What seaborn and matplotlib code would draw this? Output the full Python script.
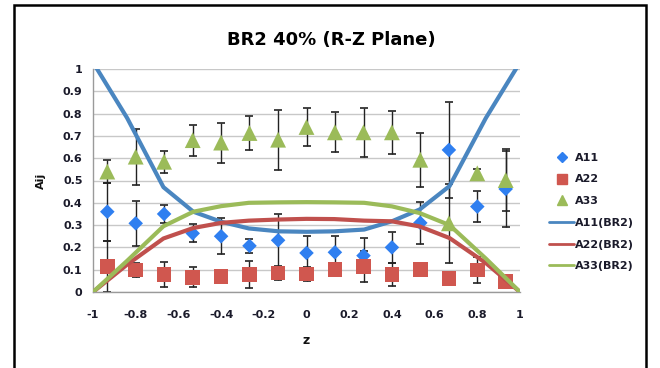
import numpy as np
import pandas as pd
import seaborn as sns
import matplotlib.pyplot as plt
from matplotlib.lines import Line2D
from matplotlib.patches import Rectangle

# measured points (symmetric error bars)
z = [-0.933, -0.8, -0.667, -0.533, -0.4, -0.267, -0.133, 0.0,
     0.133, 0.267, 0.4, 0.533, 0.667, 0.8, 0.933]
a11 = [0.36, 0.308, 0.35, 0.263, 0.25, 0.207, 0.232, 0.175,
       0.178, 0.163, 0.20, 0.31, 0.637, 0.383, 0.462]
a11_err = [0.13, 0.10, 0.04, 0.04, 0.08, 0.03, 0.12, 0.075,
           0.075, 0.08, 0.07, 0.095, 0.216, 0.068, 0.17]
a22 = [0.114, 0.099, 0.079, 0.066, 0.07, 0.078, 0.085, 0.08,
       0.10, 0.115, 0.078, 0.10, 0.06, 0.099, 0.046]
a22_err = [0.115, 0.03, 0.055, 0.045, 0.03, 0.06, 0.03, 0.03,
           0.02, 0.07, 0.05, 0.03, 0.03, 0.06, 0.02]
a33 = [0.54, 0.607, 0.584, 0.681, 0.67, 0.713, 0.683, 0.74,
       0.716, 0.716, 0.716, 0.593, 0.308, 0.532, 0.502]
a33_err = [0.05, 0.125, 0.05, 0.07, 0.09, 0.075, 0.135, 0.085,
           0.09, 0.11, 0.095, 0.12, 0.177, 0.02, 0.14]

# BR2 model curves
z_line = [-1.0, -0.84, -0.67, -0.53, -0.4, -0.27, -0.13, 0.0,
          0.13, 0.27, 0.4, 0.53, 0.67, 0.84, 1.0]
a11_br2 = [1.03, 0.78, 0.47, 0.36, 0.315, 0.285, 0.272, 0.27,
           0.272, 0.28, 0.317, 0.37, 0.475, 0.78, 1.03]
a22_br2 = [0.0, 0.123, 0.24, 0.287, 0.31, 0.32, 0.325, 0.328,
           0.327, 0.32, 0.317, 0.294, 0.242, 0.13, 0.0]
a33_br2 = [0.0, 0.14, 0.295, 0.36, 0.385, 0.40, 0.402, 0.403,
           0.402, 0.40, 0.384, 0.354, 0.30, 0.15, 0.0]

sns.set_style("white")
plt.rcParams['font.family'] = ['DejaVu Sans']

fig = plt.figure(figsize=(6.6, 3.68), dpi=100)
ax = fig.add_axes([93/660, 1-292/368, 427/660, 223/368])

pts = pd.DataFrame({'z': z, 'A11': a11, 'A22': a22, 'A33': a33})
lines = pd.DataFrame({'z': z_line, 'A11(BR2)': a11_br2,
                      'A22(BR2)': a22_br2, 'A33(BR2)': a33_br2})

mk_colors = {'A11': '#2f7ff0', 'A22': '#d0574f', 'A33': '#9bbb59'}
ln_colors = {'A11(BR2)': '#4a86c0', 'A22(BR2)': '#c0504d', 'A33(BR2)': '#9bbb59'}
markers = {'A11': 'D', 'A22': 's', 'A33': '^'}
msizes = {'A11': 55, 'A22': 110, 'A33': 130}
errs = {'A11': a11_err, 'A22': a22_err, 'A33': a33_err}

for col in ['A11', 'A22', 'A33']:
    ax.errorbar(pts['z'], pts[col], yerr=errs[col], fmt='none', ecolor='#222222',
                elinewidth=1, capsize=3, capthick=1.2, zorder=2)
    sns.scatterplot(data=pts, x='z', y=col, marker=markers[col], s=msizes[col],
                    color=mk_colors[col], edgecolor='none', ax=ax, zorder=3)

for col in ['A11(BR2)', 'A22(BR2)', 'A33(BR2)']:
    sns.lineplot(data=lines, x='z', y=col, sort=False, color=ln_colors[col],
                 linewidth=3, ax=ax, zorder=4)

ax.set_xlim(-1, 1)
ax.set_ylim(0, 1)
ax.set_xticks(np.arange(-1, 1.01, 0.2))
ax.set_xticklabels(['-1', '-0.8', '-0.6', '-0.4', '-0.2', '0', '0.2', '0.4', '0.6', '0.8', '1'])
ax.set_yticks(np.arange(0, 1.01, 0.1))
ax.set_yticklabels(['0', '0.1', '0.2', '0.3', '0.4', '0.5', '0.6', '0.7', '0.8', '0.9', '1'])
ax.yaxis.grid(True, color='#c8c8c8', linewidth=1)
ax.set_axisbelow(True)
for s in ['top', 'right']:
    ax.spines[s].set_visible(False)
for s in ['left', 'bottom']:
    ax.spines[s].set_color('#9a9a9a')
    ax.spines[s].set_linewidth(1)
ax.tick_params(axis='both', direction='out', length=4, width=1, color='#9a9a9a',
               labelsize=8, labelcolor='#1a1a2a')
ax.tick_params(axis='x', pad=9)
for lbl in ax.get_xticklabels() + ax.get_yticklabels():
    lbl.set_fontweight('bold')

ax.set_xlabel('z', fontsize=9, fontweight='bold', labelpad=10, color='#111111')
ax.set_ylabel('Aij', fontsize=8, fontweight='bold', labelpad=12, color='#111111')
fig.text(331/660, 1-40/368, 'BR2 40% (R-Z Plane)', ha='center', va='center',
         fontsize=13, fontweight='bold', color='black')

handles = [
    Line2D([], [], linestyle='none', marker='D', markersize=5, color=mk_colors['A11']),
    Line2D([], [], linestyle='none', marker='s', markersize=7, color=mk_colors['A22']),
    Line2D([], [], linestyle='none', marker='^', markersize=7, color=mk_colors['A33']),
    Line2D([], [], color=ln_colors['A11(BR2)'], linewidth=2),
    Line2D([], [], color=ln_colors['A22(BR2)'], linewidth=2),
    Line2D([], [], color=ln_colors['A33(BR2)'], linewidth=2),
]
labels = ['A11', 'A22', 'A33', 'A11(BR2)', 'A22(BR2)', 'A33(BR2)']
leg = fig.legend(handles, labels, loc='center left', bbox_to_anchor=(545/660, 1-212/368),
                 frameon=False, fontsize=8, labelspacing=1.05, handlelength=2.2,
                 handletextpad=0.1, borderaxespad=0)
for t in leg.get_texts():
    t.set_fontweight('bold')
    t.set_color('#1a1a2a')

fig.patches.append(Rectangle((14/660, -0.2), (646-14)/660, 1.2 - 5/368,
                             transform=fig.transFigure, fill=False,
                             edgecolor='black', linewidth=1.8))

fig.savefig('out.png', dpi=100)
